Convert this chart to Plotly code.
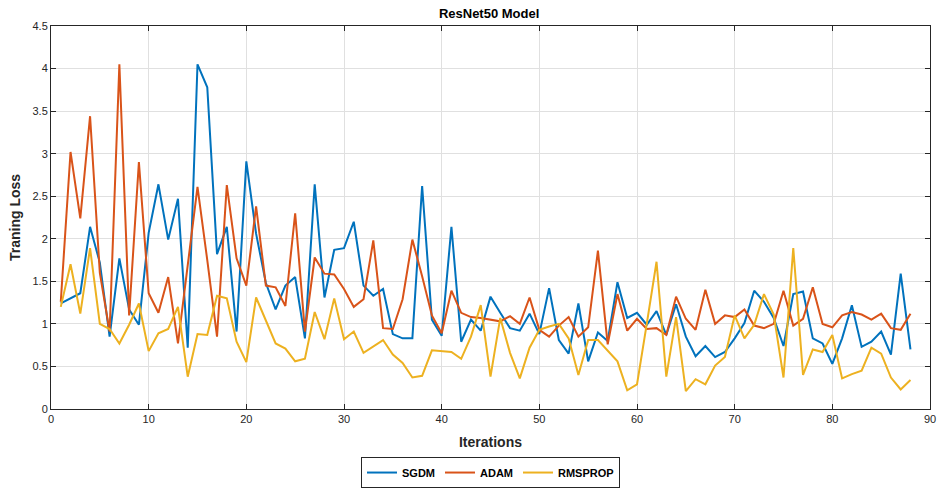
import plotly.graph_objects as go

iterations = list(range(1, 89))

sgdm = [1.24, 1.30, 1.36, 2.14, 1.72, 0.85, 1.77, 1.17, 0.99, 2.07,
        2.64, 1.99, 2.47, 0.72, 4.05, 3.78, 1.82, 2.14, 0.91, 2.91,
        2.06, 1.48, 1.17, 1.45, 1.55, 0.83, 2.64, 1.31, 1.87, 1.89,
        2.20, 1.45, 1.33, 1.41, 0.88, 0.83, 0.83, 2.62, 1.05, 0.86,
        2.14, 0.79, 1.05, 0.92, 1.32, 1.13, 0.95, 0.92, 1.12, 0.88,
        1.42, 0.81, 0.65, 1.24, 0.56, 0.90, 0.80, 1.49, 1.07, 1.13,
        0.99, 1.15, 0.87, 1.23, 0.85, 0.62, 0.74, 0.61, 0.67, 0.83,
        1.01, 1.39, 1.26, 1.07, 0.74, 1.35, 1.38, 0.83, 0.77, 0.53,
        0.83, 1.22, 0.73, 0.79, 0.91, 0.64, 1.59, 0.70]

adam = [1.26, 3.02, 2.24, 3.44, 1.60, 0.91, 4.05, 1.10, 2.90, 1.36,
        1.13, 1.55, 0.77, 1.68, 2.61, 1.75, 0.85, 2.63, 1.77, 1.45,
        2.38, 1.45, 1.43, 1.21, 2.30, 0.91, 1.78, 1.59, 1.58, 1.41,
        1.20, 1.29, 1.98, 0.95, 0.94, 1.29, 1.99, 1.56, 1.10, 0.89,
        1.39, 1.13, 1.08, 1.07, 1.05, 1.03, 1.09, 1.00, 1.31, 0.93,
        0.85, 0.98, 1.08, 0.85, 0.96, 1.86, 0.76, 1.35, 0.92, 1.06,
        0.94, 0.95, 0.87, 1.32, 1.06, 0.93, 1.40, 1.00, 1.10, 1.08,
        1.17, 0.98, 0.95, 1.00, 1.39, 0.98, 1.06, 1.43, 1.00, 0.96,
        1.10, 1.14, 1.11, 1.05, 1.12, 0.95, 0.93, 1.12]

rmsprop = [1.20, 1.70, 1.12, 1.89, 1.00, 0.94, 0.77, 0.99, 1.24, 0.68,
           0.89, 0.94, 1.20, 0.38, 0.88, 0.87, 1.33, 1.30, 0.79, 0.55,
           1.31, 1.05, 0.77, 0.71, 0.56, 0.59, 1.14, 0.82, 1.30, 0.82,
           0.91, 0.66, 0.74, 0.81, 0.64, 0.54, 0.37, 0.39, 0.69, 0.68,
           0.67, 0.59, 0.85, 1.22, 0.38, 1.07, 0.66, 0.36, 0.72, 0.93,
           0.97, 1.00, 0.83, 0.40, 0.81, 0.81, 0.68, 0.56, 0.22, 0.29,
           1.00, 1.73, 0.38, 1.08, 0.21, 0.35, 0.29, 0.51, 0.61, 1.10,
           0.83, 0.99, 1.35, 1.11, 0.37, 1.89, 0.40, 0.70, 0.67, 0.87,
           0.36, 0.41, 0.45, 0.72, 0.65, 0.37, 0.23, 0.34]

series = [("SGDM", sgdm, "#0072BD"),
          ("ADAM", adam, "#D95319"),
          ("RMSPROP", rmsprop, "#EDB120")]

x_ticks = list(range(0, 91, 10))
y_ticks = [0, 0.5, 1, 1.5, 2, 2.5, 3, 3.5, 4, 4.5]
y_tick_text = ["0", "0.5", "1", "1.5", "2", "2.5", "3", "3.5", "4", "4.5"]

fig = go.Figure()
for name, values, color in series:
    fig.add_trace(go.Scatter(
        x=iterations, y=values, name=f"<b>{name}</b>", mode="lines",
        line=dict(color=color, width=2),
    ))

axis_common = dict(
    showline=True, linecolor="#262626", linewidth=1, mirror="ticks",
    ticks="inside", ticklen=5, tickcolor="#262626",
    showgrid=True, gridcolor="#E0E0E0", gridwidth=1,
    zeroline=False, automargin=False,
    tickfont=dict(family="Liberation Sans, Arial", size=11, color="#262626"),
)

fig.update_layout(
    width=937, height=490,
    paper_bgcolor="white", plot_bgcolor="white",
    margin=dict(l=51, r=7, t=26, b=81, autoexpand=False),
    title=dict(text="<b>ResNet50 Model</b>", x=0.522, xanchor="center",
               y=0.972, yanchor="middle",
               font=dict(family="Liberation Sans, Arial", size=13, color="black")),
    font=dict(family="Liberation Sans, Arial", color="#262626"),
    xaxis=dict(range=[0, 90], tickvals=x_ticks,
               title=dict(text="<b>Iterations</b>", standoff=12,
                          font=dict(size=14, color="#262626")),
               **axis_common),
    yaxis=dict(range=[0, 4.5], tickvals=y_ticks, ticktext=y_tick_text,
               title=dict(text="<b>Traning Loss</b>", standoff=8,
                          font=dict(size=14, color="#262626")),
               **axis_common),
    legend=dict(orientation="h", x=0.5, xanchor="center",
                yref="container", y=0.004, yanchor="bottom",
                bordercolor="#262626", borderwidth=1, bgcolor="white",
                font=dict(family="Liberation Sans, Arial", size=11, color="black"),
                itemwidth=30, tracegroupgap=0),
    showlegend=True,
)

fig.write_html("out.html")
